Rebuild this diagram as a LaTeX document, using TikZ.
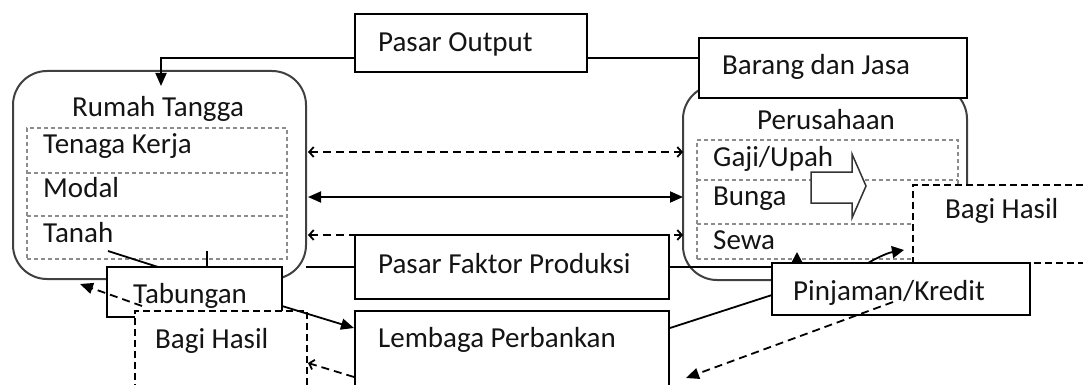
\documentclass[tikz,border=0pt]{standalone}
\usepackage{fontspec}
\setmainfont{Carlito}
\usetikzlibrary{arrows.meta}
\tikzset{
  fb/.tip={Triangle[length=13pt,width=11pt]},
  ob/.tip={Straight Barb[length=4.5pt,width=10pt]},
}
\begin{document}
\begin{tikzpicture}[x=1pt,y=-1pt,
  box/.style={draw=black, line width=1.8pt, fill=white, rectangle, inner sep=0pt, outer sep=0pt, anchor=north west},
  dbox/.style={box, line width=1.6pt, dash pattern=on 7pt off 4pt},
  rbox/.style={draw=black!75, line width=2pt, rectangle, rounded corners=34pt, inner sep=0pt, outer sep=0pt, anchor=north west},
  innerbox/.style={draw=black!45, line width=1.1pt, dash pattern=on 4pt off 3pt, rectangle, inner sep=0pt, outer sep=0pt, anchor=north west},
  innerline/.style={draw=black!45, line width=1.1pt, dash pattern=on 4pt off 3pt},
  lbl/.style={anchor=base west, inner sep=0pt, font=\fontsize{29}{34}\selectfont, text=black!92},
  conn/.style={line width=1.8pt},
  dconn/.style={line width=1.8pt, dash pattern=on 8pt off 5pt},
]
\useasboundingbox (0,0) rectangle (1083,385);
\clip (0,0) rectangle (1083,385);

% main rounded boxes
\node[rbox, minimum width=293pt, minimum height=208pt] (rt) at (13,71) {};
\node[rbox, minimum width=284pt, minimum height=195pt] (pe) at (683,85) {};

% inner compartments
\node[innerbox, minimum width=260pt, minimum height=131pt] (rtin) at (27,128) {};
\draw[innerline] (27,173) -- (287,173);
\draw[innerline] (27,216) -- (287,216);
\node[innerbox, minimum width=261pt, minimum height=119pt] (pein) at (697,140) {};
\draw[innerline] (697,180) -- (958,180);
\draw[innerline] (697,224) -- (958,224);

% connectors between households and firms
\coordinate (a1) at (308,152); \coordinate (b1) at (683,152);
\coordinate (a2) at (308,197); \coordinate (b2) at (683,197);
\coordinate (a3) at (308,235); \coordinate (b3) at (683,235);
\draw[dconn, ob-ob] (a1) -- (b1);
\draw[conn, fb-fb] (a2) -- (b2);
\draw[dconn, ob-ob] (a3) -- (b3);

% lines at y=267
\coordinate (rtR) at (306,267); \coordinate (peL) at (669,267);
\coordinate (tanA) at (108,251); \coordinate (tanB) at (158,267);
\coordinate (tanC) at (207,251); \coordinate (tanD) at (207,267);
\draw[conn] (tanA) -- (tanB);
\draw[conn] (tanC) -- (tanD);

% boxes
\node[box, minimum width=232pt, minimum height=58pt] (po) at (355,14) {};
\node[box, minimum width=268pt, minimum height=60pt] (bdj) at (699,38) {};
\node[box, minimum width=314pt, minimum height=64pt] (pfp) at (355,235) {};
\node[box, minimum width=175pt, minimum height=50pt] (tab) at (107,267) {};
\node[dbox, minimum width=172pt, minimum height=100pt] (bhl) at (135,311) {};
\node[box, minimum width=314pt, minimum height=100pt] (lp) at (355,311) {};
\node[dbox, minimum width=200pt, minimum height=78pt] (bhr) at (913,185) {};
\node[box, minimum width=258pt, minimum height=52pt] (pk) at (772,263) {};

\draw[conn] (rtR) -- (rtR -| pfp.west);
\draw[conn] (pfp.east |- peL) -- (peL -| pk.west);

% Pasar Output connectors
\coordinate (poLine) at (355,58);
\coordinate (poBend) at (161,58);
\coordinate (rtTop) at (161,86);
\draw[conn, -fb] (poLine) -- (poBend) -- (rtTop);
\draw[conn] (poLine -| po.east) -- (poLine -| bdj.west);

% block arrow
\draw[line width=1.5pt, draw=black!80, fill=white] (811,172) -- (852,172) -- (852,154) -- (866,186) -- (852,218) -- (852,203) -- (811,203) -- cycle;

% texts
\node[lbl] (tpo) at (378,52) {Pasar Output};
\node[lbl] (tbdj) at (722,75) {Barang dan Jasa};
\node[lbl] (trt) at (72,117) {Rumah Tangga};
\node[lbl] (ttk) at (43,153) {Tenaga Kerja};
\node[lbl] (tmo) at (43,197) {Modal};
\node[lbl] (tta) at (43,242) {Tanah};
\node[lbl] (ttab) at (133,303) {Tabungan};
\node[lbl] (tbhl) at (155,348) {Bagi Hasil};
\node[lbl] (tpfp) at (378,273) {Pasar Faktor Produksi};
\node[lbl] (tlp) at (378,347) {Lembaga Perbankan};
\node[lbl] (tpe) at (757,129) {Perusahaan};
\node[lbl] (tgu) at (713,166) {Gaji/Upah};
\node[lbl] (tbu) at (713,205) {Bunga};
\node[lbl] (tse) at (713,249) {Sewa};
\node[lbl] (tbhr) at (945,218) {Bagi Hasil};
\node[lbl] (tpk) at (793,300) {Pinjaman/Kredit};

% arrows drawn on top
\coordinate (tabR) at (282,306); \coordinate (lpL) at (354,328);
\draw[conn, -fb] (tabR) -- (lpL);
\coordinate (bhlC) at (142,306); \coordinate (rtB) at (80,284);
\draw[dconn, -fb] (bhlC) -- (rtB);
\coordinate (lpR) at (670,328); \coordinate (pkL) at (772,295);
\draw[conn] (lpR) -- (pkL);
\coordinate (pkIn) at (893,302); \coordinate (lpIn) at (686,378);
\draw[dconn, -fb] (pkIn) -- (lpIn);
\coordinate (lpBL) at (354,377); \coordinate (bhlR) at (308,363);
\draw[dconn, -ob] (lpBL) -- (bhlR);
\coordinate (pkT1) at (797,263); \coordinate (seB) at (797,252);
\draw[conn, -{Triangle[length=10pt,width=10pt]}] (pkT1) -- (seB);
\coordinate (pkT2) at (868,263); \coordinate (bhB) at (904,250);
\draw[conn, -{Triangle[length=12pt,width=12pt]}] (pkT2) to[bend left=10] (bhB);
\end{tikzpicture}
\end{document}
